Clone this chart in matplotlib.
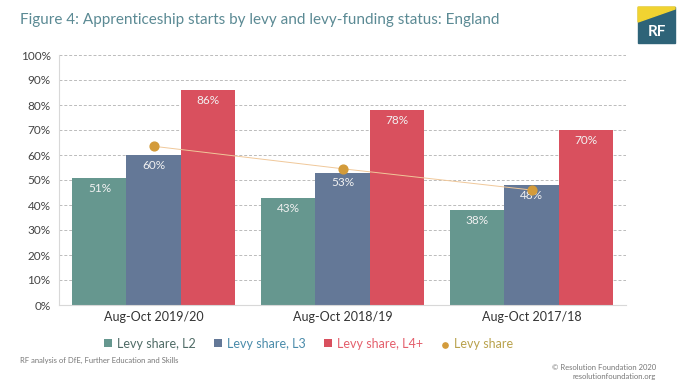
import matplotlib.pyplot as plt
import numpy as np
from matplotlib.patches import Polygon, Rectangle

plt.rcParams['font.family'] = ['Lato', 'DejaVu Sans']

periods = ['Aug-Oct 2019/20', 'Aug-Oct 2018/19', 'Aug-Oct 2017/18']
share_l2 = [51, 43, 38]
share_l3 = [60, 53, 48]
share_l4 = [86, 78, 70]
levy_share = [63.5, 54.5, 46]
series_names = ['Levy share, L2', 'Levy share, L3', 'Levy share, L4+', 'Levy share']

bar_colors = ['#66978F', '#647897', '#D9505E']
dot_color = '#D39B3A'
legend_text_colors = ['#4F6B66', '#4A8BAA', '#E45F6C', '#B9A24C']

fig = plt.figure(figsize=(6.84, 3.85), dpi=100)
ax = fig.add_axes([59 / 684, 1 - 305 / 385, (626 - 59) / 684, 250 / 385])

x = np.arange(len(periods))
w = 0.286
handles = []
for i, (vals, col) in enumerate(zip([share_l2, share_l3, share_l4], bar_colors)):
    pos = x + (i - 1) * w
    h = ax.bar(pos, vals, width=w, color=col, zorder=2, label=series_names[i])
    handles.append(h)
    for p, v in zip(pos, vals):
        ax.text(p, v - 2, f'{v}%', ha='center', va='top', color='#F2F2F2',
                fontsize=8.5, zorder=4)

ax.plot(x, levy_share, color='#F0C89A', lw=0.7, zorder=3)
h = ax.scatter(x, levy_share, s=40, color=dot_color, zorder=5, label=series_names[3])
handles.append(h)

ax.set_xlim(-0.5, 2.5)
ax.set_ylim(0, 100)
ax.set_yticks(range(0, 101, 10))
ax.set_yticklabels([f'{t}%' for t in range(0, 101, 10)], fontsize=8.5, color='#444444')
ax.set_xticks(x)
ax.set_xticklabels(periods, fontsize=9, color='#333333')
ax.tick_params(length=0, pad=6)
ax.tick_params(axis='x', pad=4)
ax.grid(axis='y', color='#BBBBBB', linestyle=(0, (3, 2)), lw=0.7, zorder=0)
for s in ['top', 'right']:
    ax.spines[s].set_visible(False)
ax.spines['left'].set_color('#D8D8D8')
ax.spines['bottom'].set_color('#D8D8D8')

leg = ax.legend(handles=handles, labels=series_names, loc='upper center',
                bbox_to_anchor=(0.44, -0.085), ncol=4, frameon=False,
                fontsize=9, handlelength=0.6, handleheight=0.6, handletextpad=0.4,
                columnspacing=1.5, markerscale=0.6)
for t, c in zip(leg.get_texts(), legend_text_colors):
    t.set_color(c)

fig.text(20 / 684, 1 - 20 / 385, 'Figure 4: Apprenticeship starts by levy and levy-funding status: England',
         fontsize=11, color='#5B8A94', va='center')

# RF logo
lx0, lx1, ly0, ly1 = 638 / 684, 675 / 684, 1 - 43 / 385, 1 - 7 / 385
fig.patches.append(Rectangle((lx0, ly0), lx1 - lx0, ly1 - ly0, transform=fig.transFigure,
                             color='#2E6378'))
fig.patches.append(Polygon([(lx0, ly1), (lx1, ly1), (lx1, 1 - 9 / 385), (lx0, 1 - 22 / 385)],
                           closed=True, transform=fig.transFigure, color='#F1D331'))
fig.text((lx0 + lx1) / 2, 1 - 32 / 385, 'RF', color='white', fontsize=11, fontweight='bold',
         ha='center', va='center')

fig.text(20 / 684, 1 - 360 / 385, 'RF analysis of DfE, Further Education and Skills',
         fontsize=5.5, color='#777777', va='center')
fig.text(656 / 684, 1 - 367 / 385, '\u00a9 Resolution Foundation 2020', fontsize=5.5,
         color='#777777', ha='right', va='center')
fig.text(656 / 684, 1 - 377 / 385, 'resolutionfoundation.org', fontsize=5.5,
         color='#777777', ha='right', va='center')

fig.savefig('out.png', dpi=100)
